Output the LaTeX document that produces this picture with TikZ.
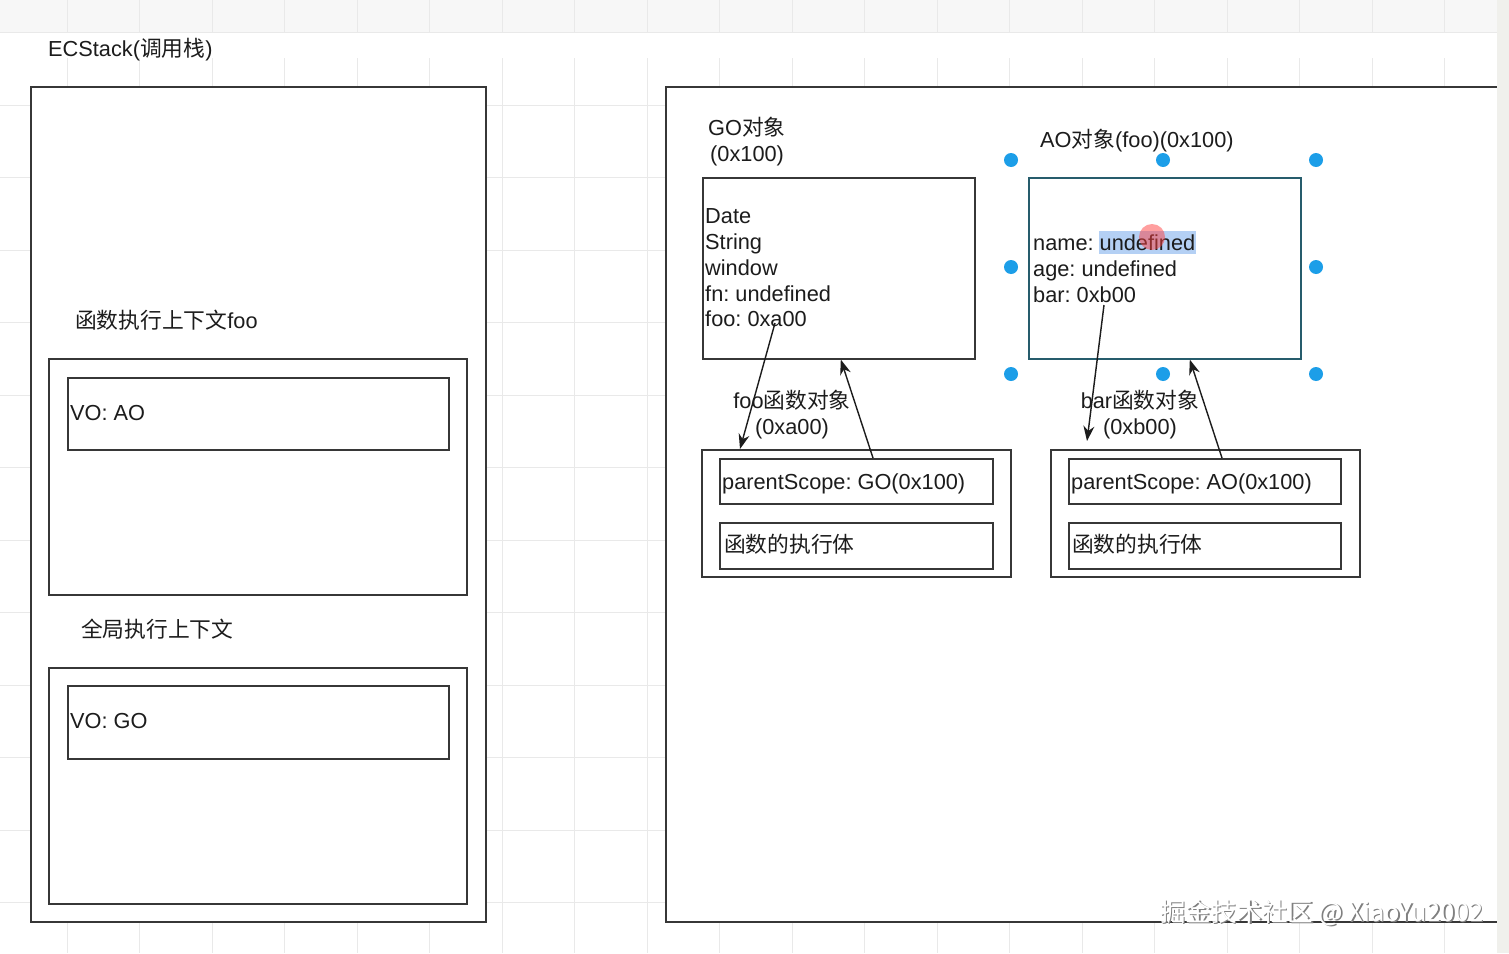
\documentclass[tikz,border=0pt]{standalone}
\usepackage{xcolor, fontspec}
\usepackage{tikz}
\usetikzlibrary{arrows.meta}
\setmainfont{Liberation Sans}
\newfontfamily\cjk{Noto Sans CJK SC}
\newcommand{\zh}[1]{{\cjk #1}}
\definecolor{ink}{RGB}{28,28,28}
\definecolor{frame}{RGB}{55,55,55}
\definecolor{aoline}{RGB}{38,92,108}
\definecolor{handle}{RGB}{28,158,232}
\definecolor{gridgray}{RGB}{233,233,233}
\definecolor{sel}{RGB}{180,208,244}
\definecolor{strip}{RGB}{240,240,236}
\frenchspacing

\begin{document}
\begin{tikzpicture}
	[
	x=1pt, y=-1pt,
	font=\fontsize{21.75}{26}\selectfont,
	box/.style={draw=frame, line width=1.6pt, fill=white, anchor=north west, inner sep=0pt},
	txt/.style={anchor=west, inner sep=0pt, text=ink, text height=0.72em, text depth=0pt, yshift=-5pt},
	ptr/.style={draw=ink, line width=1.4pt, -{Stealth[length=15pt, width=11pt]}},
	gridline/.style={draw=gridgray, line width=1pt},
	handledot/.style={circle, fill=handle, inner sep=0pt, minimum size=14pt}]
	\useasboundingbox (0,0) rectangle (1509,953);
	\fill[white] (0,0) rectangle (1509,953);
	\fill[black!3] (0,0) rectangle (1509,32);
	\foreach \gx in {-5.5,67,...,1500} {
		\draw[gridline] (\gx,0) -- (\gx,32);
		\draw[gridline] (\gx,58) -- (\gx,953);
	}
	\foreach \gy in {32,105,177.5,...,953}
		\draw[gridline] (0,\gy) -- (1509,\gy);
	% call stack
	\node[box, minimum width=455, minimum height=835] (stack) at (30,86) {};
	\node[txt] (stacklbl) at (48,48) {ECStack(\zh{调用栈})};
	\node[txt] (fooctxlbl) at (75,320) {\zh{函数执行上下文}foo};
	\node[box, minimum width=418, minimum height=236] (fooctx) at (48,358) {};
	\node[box, minimum width=381, minimum height=72] (voao) at (67,377) {};
	\node[txt] (voaotxt) at (70,412) {VO: AO};
	\node[txt] (globalctxlbl) at (81,629) {\zh{全局执行上下文}};
	\node[box, minimum width=418, minimum height=236] (globalctx) at (48,667) {};
	\node[box, minimum width=381, minimum height=73] (vogo) at (67,685) {};
	\node[txt] (vogotxt) at (70,720) {VO: GO};
	% heap
	\node[box, minimum width=835, minimum height=835] (heap) at (665,86) {};
	\node[txt] (golbl) at (708,127) {GO\zh{对象}};
	\node[txt] (goaddr) at (710,153) {(0x100)};
	\node[box, minimum width=272, minimum height=181] (go) at (702,177) {};
	\foreach \f [count=\i] in {Date,String,window,fn: undefined,foo: 0xa00}
		\node[txt] (go\i) at (705,{215+25.8*(\i-1)}) {\f};
	\node[txt] (aolbl) at (1040,139) {AO\zh{对象}(foo)(0x100)};
	\node[box, draw=aoline, minimum width=272, minimum height=181] (ao) at (1028,177) {};
	\fill[sel] (1099,231) rectangle (1196,254);
	\node[txt] (ao1) at (1033,242) {name: undefined};
	\node[txt] (ao2) at (1033,268) {age: undefined};
	\node[txt] (ao3) at (1033,294) {bar: 0xb00};
	\fill[red!75, opacity=0.5] (1152,237) circle (13pt);
	\foreach \hx/\hy [count=\k] in {1011/160,1163/160,1316/160,1011/267,1316/267,1011/374,1163/374,1316/374}
		\node[handledot] (h\k) at (\hx,\hy) {};
	% function objects
	\node[box, minimum width=309, minimum height=127] (foofn) at (701,449) {};
	\node[box, minimum width=273, minimum height=45] (foops) at (719,458) {};
	\node[txt] (foopstxt) at (722,481) {parentScope: GO(0x100)};
	\node[box, minimum width=273, minimum height=46] (foobody) at (719,522) {};
	\node[txt] (foobodytxt) at (724,544) {\zh{函数的执行体}};
	\node[box, minimum width=309, minimum height=127] (barfn) at (1050,449) {};
	\node[box, minimum width=272, minimum height=45] (barps) at (1068,458) {};
	\node[txt] (barpstxt) at (1071,481) {parentScope: AO(0x100)};
	\node[box, minimum width=272, minimum height=46] (barbody) at (1068,522) {};
	\node[txt] (barbodytxt) at (1072,544) {\zh{函数的执行体}};
	\node[txt, anchor=center] (foofnlbl) at (792,400) {foo\zh{函数对象}};
	\node[txt, anchor=center] (foofnaddr) at (792,426) {(0xa00)};
	\node[txt, anchor=center] (barfnlbl) at (1140,400) {bar\zh{函数对象}};
	\node[txt, anchor=center] (barfnaddr) at (1140,426) {(0xb00)};
	% pointers
	\coordinate (fooref) at (775,323);
	\coordinate (barref) at (1104,305);
	\coordinate (barend) at (1087,441);
	\draw[ptr] (fooref) -- ([xshift=39pt]foofn.north west);
	\draw[ptr] ([xshift=154pt]foops.north west) -- ([xshift=2pt]go.south);
	\draw[ptr] (barref) -- (barend);
	\draw[ptr] ([xshift=154pt]barps.north west) -- ([xshift=25pt]ao.south);
	% canvas edge and watermark
	\fill[strip] (1497,0) rectangle (1509,953);
	\node[anchor=east, inner sep=0pt, text=black!50, font=\cjk\fontsize{25.5}{26}\selectfont] (wmshadow) at (1485,914) {掘金技术社区 @ XiaoYu2002};
	\node[anchor=east, inner sep=0pt, text=white, font=\cjk\fontsize{25.5}{26}\selectfont] (wm) at (1483.5,912.5) {掘金技术社区 @ XiaoYu2002};
	\end{tikzpicture}
\end{document}
